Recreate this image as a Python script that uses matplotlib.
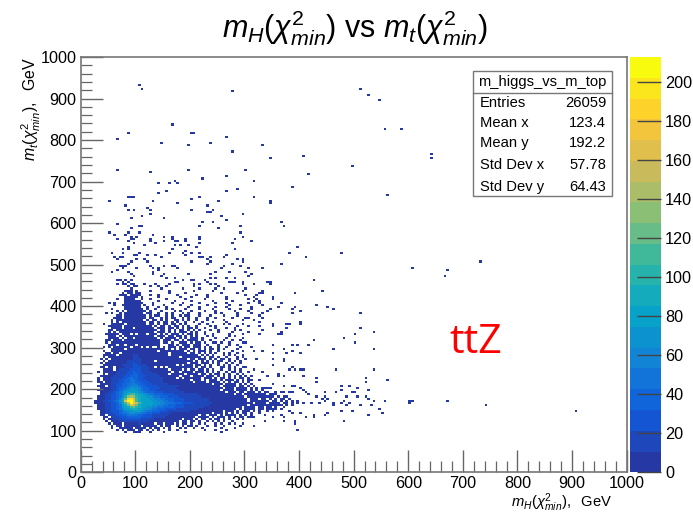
import numpy as np
import matplotlib
matplotlib.use('Agg')
import matplotlib.pyplot as plt
from matplotlib.colors import BoundaryNorm, LinearSegmentedColormap, ListedColormap
from matplotlib.patches import Rectangle

plt.rcParams['font.family'] = ['Liberation Sans', 'DejaVu Sans']
plt.rcParams['mathtext.fontset'] = 'custom'
plt.rcParams['mathtext.rm'] = 'Liberation Sans'
plt.rcParams['mathtext.it'] = 'Liberation Sans:italic'

# single entries, m_H and m_t in GeV
sparse_x = [107,112,277,512,528,546,558,587,642,642,563,497,605,671,667,731,167,
            87,203,209,266,67,148,197,237,332,277,347,407,67,127,197,302,417,266,222,317,142,162,173,177,387,287,266,157,142,
            88,93,98,217,317,202,52,132,252,347,347,177,82,232,122,87,97,127,202,242,233,237,127,297,112,257,92,152,267,222,242,367,
            67,107,112,217,292,372,92,252,52,87,107,292,62,82,132,297,102,152,167,167,217,217,192,192,67,92,92,87,97,127,127,152,173,177,282,312,
            137,217,277,97,117,173,182,197,397,87,87,212,77,167,282,192,187,192,162,202,217,382,477,57,77,107,97,102,122,137,147,217,222,237,267,262,412,62,72,77,
            67,102,117,122,202,232,237,232,287,297,297,92,87,367,277,
            72,77,82,77,102,127,132,142,142,152,167,173,177,262,257,292,307,332,67,57,87,92,97,132,132,197,247,272,302,307,312,152,148,157,237,237,247,267,282,
            427,173,185,173,178,203,209,228,272,277,282,342,347,442,317,297,237,217,208,137,142,127,117,249,249,254,262,302,163,158,148,218,206,188,231,
            68,72,77,82,92,87,92,98,67,82,77,102,97,87,92,
            391,442,432,452,462,367,362,391,387,387,402,353,353,511,402,402,382,377,353,353,511,537,502,482,502,427,417,362,367,387,397,461,537,372,353,
            387,402,377,353,372,372,387,392,402,408,467,537,382,362,362,372,408,432,432,522,522,562,477,477,492,507,467,447,527,497,502,402,407,411,417,
            386,392,371,374,365,383,389,432,447,441,453,447,487,482,507,522,527,537,557,600,600,608,672,742,907,511,532,492,477,460,463,437,423,
            548,552,527,497,477,452,447,427,427,482,397,391,391,372,412,402,386,382,367,372,353,486,
            344,347,317,298,334,353,322,322,325,307,315,365,362,347,340,334,328,331,311,312,301,298,353,379,377,328,316,325,331,307,365,307,328,
            304,310,316,331,322,350,353,319,304,334,340,325,304,310,350,316,301,340,346,325,359,353,340,322,331,316,359,356,347,337,328,319,347,353,316,304,353,337,310,316,337,298,270,267,255]
sparse_y = [932,922,918,920,905,898,829,829,768,758,667,738,494,489,470,508,838,
            818,818,818,808,804,793,788,793,788,773,758,763,728,723,728,728,718,712,708,703,698,698,703,698,688,683,678,678,673,
            663,663,663,663,663,658,653,653,653,653,648,648,643,643,638,633,633,633,633,633,628,628,623,623,618,618,613,613,608,603,603,603,
            598,593,593,593,593,593,588,588,578,578,578,578,573,573,573,568,568,568,567,562,567,562,562,558,562,567,562,558,562,562,558,558,558,558,562,558,
            553,553,553,553,548,548,548,548,543,543,539,543,538,538,538,534,529,524,529,529,529,529,529,529,529,529,524,524,523,523,518,518,518,518,523,518,518,518,518,518,
            513,513,513,508,508,513,508,503,513,513,508,508,503,503,503,
            497,497,497,492,494,497,492,492,487,497,497,497,492,497,492,497,492,492,487,483,483,478,473,483,478,478,483,483,483,473,478,478,473,468,478,468,468,468,468,
            463,468,463,458,458,463,463,463,458,458,458,458,453,439,453,453,453,453,453,453,447,449,453,450,443,447,444,443,450,447,443,443,447,443,459,
            463,463,458,463,463,458,453,453,453,453,453,448,448,448,443,
            433,439,404,399,394,409,399,399,393,384,389,423,419,384,362,358,358,349,358,353,349,338,334,324,314,318,309,334,334,309,309,298,298,298,309,
            294,289,285,289,272,268,253,249,249,249,245,245,245,238,234,234,234,228,218,228,218,224,208,198,208,204,194,192,199,194,194,202,198,192,188,
            208,208,208,190,190,190,190,180,182,178,178,174,182,174,180,180,176,174,174,174,168,174,174,164,148,164,164,168,168,168,164,168,168,
            154,143,139,148,148,143,139,139,130,123,103,123,118,123,134,143,143,148,139,134,134,160,
            459,455,453,455,432,423,429,419,407,419,413,407,399,392,387,383,379,373,392,383,371,367,359,359,349,363,367,351,344,351,335,335,331,
            310,302,290,290,270,270,258,246,250,242,230,222,234,222,214,206,198,202,202,194,194,186,182,182,178,186,170,162,166,164,162,164,154,154,150,146,146,138,134,114,120,126,118,100,98]

# lower edge of each 5 GeV row in m_t, dense part of the histogram
grid_y = list(range(435, 90, -5))
# one character per 5 GeV bin in m_H, starting at 0
# . empty, # a few entries, otherwise the content in tens (base 36)
grid_rows = [
"................###.#....#......#........#......#..........#......#",
"...............#.##.##..........#.....#............#.....#.......#",
"..............###.####...#..#......#......#...#.............#......",
"................#####.#.....#.......#...#.....#......#.........#",
".............#..####..#..#.....#......#......#.......#.......#",
"................######......#.....#.....#.......#......#.........#",
"..........#.#...#######...#......#...#.....#.....#...#.......#",
"............#..#######.#..#...#.....#...#.....#.......#...#.......#",
"................######..#...#..#.......#...#.....#...#........#",
"...........#....#######.#..#...#.#....#....#....#.....#...#",
".............#.#.#######.#...#....#.#...#....#...#......#....#",
".........#.#..#.#######.##..#..#.#...#.#...#.....#.#.....#....",
".............##.########.#.##..#.#..#.##...#...#....#....#",
"............###.########.##..#.#.##..#.#..#...#..#.....#.....#",
"...........#.##########.#.##.#.#..##.#.#..#...#.....#......#",
"...........#.#.#########.##.#.##.#.#..#..#..#...#....#...",
"........#..#####.#######.##.#.##.##.#.#....#..#.....#.#....#",
"..........#####.##########.#.##.#.##.#.#..#....#.#.......#",
"...........####.###.#######.###.##.#.#.##.#..#...#...#..#",
"..........##.###############.##.#.#.##.#.#.#...#..#.....#.#",
"..........#.#.#############.###.#.#.###.#.#..#....#....#",
".........#####.###.#.###.###.#.#.###.#.##.#..#..#.....#....#",
"..........###.#.###########.###.##.##.#.#.#...#.#.....#.#",
"..........####.#.##.########.#.####.#.#.###.#....#...#.....#",
".........##.###.#############.###.##.#.####.#..#....#..#..#",
".........#.##################.##.#..###.#.##.#..##.#..#....#",
"..........###.##.###.########...##.#.###.###..#...#...#..#",
"........#.#.######.###.#.#..#.#.###.#.##.###.#.#..#..#....#",
"...........#####.##############.#.#.###.##.#.#.##.#.#....#",
"........#..#################.#########.#.#.###.#..#....#...#",
".........##.##.#################.######.##.#.#.#.#..#.#..#",
"........#####.#####11###########.##########.#.#.#...#.#.#..#",
"........#.#########11###############.#######.#.##.#..#...#.#",
".......#.#.########111#################.##.###.#.#.##.#..#..#",
"........#.#######11111#####.#############.#.#.#.#.##..#.#.#",
".......#.########11211#################.###.###.#.#..#.#..#",
"........#######111122111###########.#.###.##.#.#..#.#.#..#",
".......##.##.###111222111##.#.#.#########.#.##.#...##.#.#..#",
"........####.#11112222111#######.####.#.##.##.#.#..#..#.#.#",
"......#.#####1111223221111#######.##.####.###.#.#.#..#.##.#..#",
"........#.###111122332211111####.#####.####.##.#.##.#.#..#.#",
".......#####11112233322211111#######.###.####.###.#.#.#.#.#.#.#",
"......#.###1111223433221111111#####.#.######.###.#.##.#.#.##.#",
"......#.###1112233443222111111##########.###.#.###.#.###.#.#.#",
"......##.##1112233443322211111###########.####.####.#.#.##.#.#",
".......####112233445433222111111################.###.####.#.#.#",
"......###.#1122334555433222211111111###############.#####.##.#",
".......####112334566654332222111111#################.###.####.#.#.###",
"......#####1123456776543322211111111###############.####.####.#.#.#",
".......###1123456788765433322211111111###############.###.##.###.#.##",
".......##112234579bb98765443332222111111111#############.##.###.####.#.#",
"......###11223469deda98766544333222211111111################.###.######.#.##",
"......###1122359cijgb98876655443332222111111111##############.###.##.#.#.##.#",
".....###11223469gkkhb98877665544332222111111111##############.#######.##.#.#.#.#",
".....####1122358bfkhfb98877665544433322221111111###############.####.####.##.#.#.#",
"......###11223479cgfc98877665544333222111111111##############.#####.###.##.#.#",
"......###112234689bca987665544333322221111111##############.####.##.##.#..#",
"......###1122345789a98766544333222211111111##############.#.####.##.##.#.#",
".......##1122234566777654433322211111111############.###.#.###.#.#..#.#",
".......##111223445665544332221111###############.###.#.#.#.##.#..#",
".......##.1112233444433222111111###########.##.###.#.####.#.#.#",
"........##.11122233333222211111###########.####.#.###.#.#.##.#.#",
"........#.##111222222211111##########.###.#.##.#.##.#.#..#",
".........#.###11111111111###########.##.##.#..#.#.#.#..#",
"..........#.###.#####1#####.##.###.#.##.#..#.#...#.#....#..#",
"...........#.##.######.#####.#.##..#.#.##.#...#..#..#.....#",
"...........#..#####.####.#.##.#.#...#.#..#..#......#....#",
".............#.#.###.##.#.#.#...#..#.........#...#...#",
"................#..###...#....#.......#",
]

stat_names = ['Entries', 'Mean x', 'Mean y', 'Std Dev x', 'Std Dev y']
stat_values = ['26059', '123.4', '192.2', '57.78', '64.43']
ticks = list(range(0, 1001, 100))
z_ticks = list(range(0, 201, 20))

# kBird palette of ROOT with a bluer start, 20 contours
bird = LinearSegmentedColormap.from_list('bird', [
    (0.15, 0.22, 0.64), (0.0592, 0.3599, 0.8684), (0.0780, 0.5041, 0.8385),
    (0.0232, 0.6419, 0.7914), (0.1802, 0.7178, 0.6425), (0.5301, 0.7492, 0.4662),
    (0.8186, 0.7328, 0.3499), (0.9956, 0.7862, 0.1968), (0.9764, 0.9832, 0.0539)])
cmap = ListedColormap(bird(np.linspace(0, 1, 20)))
z_max = 213
norm = BoundaryNorm(np.linspace(0, z_max, 21), 20)

xs, ys, counts = [], [], []
for x, y in zip(sparse_x, sparse_y):
    xs.append(x)
    ys.append(y)
    counts.append(1)
for y, row in zip(grid_y, grid_rows):
    for c, ch in enumerate(row):
        if ch == '.':
            continue
        xs.append(c * 5 + 2.5)
        ys.append(y + 2.5)
        counts.append(3 if ch == '#' else int(ch, 36) * 10 + 5)

W, H = 693, 517
fig = plt.figure(figsize=(W / 100, H / 100), dpi=100)


def px_box(left, top, right, bottom):
    return [left / W, 1 - bottom / H, (right - left) / W, (bottom - top) / H]


ax = fig.add_axes(px_box(80.7, 57, 626.6, 472.3))
edges = np.arange(0, 1001, 5)
h = ax.hist2d(xs, ys, bins=[edges, edges], weights=counts, cmap=cmap, norm=norm, cmin=0.5)
ax.set_xlim(0, 1000)
ax.set_ylim(0, 1000)
ax.set_xticks(ticks)
ax.set_yticks(ticks)
ax.set_xticks(range(0, 1001, 20), minor=True)
ax.set_yticks(range(0, 1001, 20), minor=True)
ax.tick_params(which='major', direction='in', length=16, width=1, color='#666666', labelsize=11.7, pad=3)
ax.tick_params(which='minor', direction='in', length=8, width=0.9, color='#666666')
for s in ax.spines.values():
    s.set_color('#777777')
    s.set_linewidth(1.2)

cax = fig.add_axes(px_box(630, 57, 661, 472.3))
cb = fig.colorbar(h[3], cax=cax, ticks=z_ticks)
cb.outline.set_visible(False)
cb.ax.minorticks_off()
cb.ax.tick_params(direction='in', length=17, width=1, color='#444444', labelsize=11.7, pad=3)


def fig_text(x, y, s, **kw):
    return fig.text(x / W, 1 - y / H, s, **kw)


fig_text(355, 28, r'$m_{H}(\chi^{2}_{min})$ vs $m_{t}(\chi^{2}_{min})$', fontsize=22, ha='center', va='center')
fig_text(612, 503, r'$m_{H}(\chi^{2}_{min}),\ $ GeV', fontsize=10.6, ha='right', va='center')
fig_text(31, 57, r'$m_{t}(\chi^{2}_{min}),\ $ GeV', fontsize=11.4, ha='center', va='top', rotation=90)
fig_text(476, 343, 'ttZ', fontsize=29.5, color='#ff0000', ha='center', va='center', family=['Open Sans', 'DejaVu Sans'])

# stats box
fig.add_artist(Rectangle((473 / W, 1 - 196 / H), 139 / W, 125 / H, transform=fig.transFigure,
                         facecolor='white', edgecolor='#777777', linewidth=1, zorder=3))
fig.add_artist(plt.Line2D([473 / W, 612 / W], [1 - 93 / H, 1 - 93 / H], color='#777777', linewidth=1, zorder=3))
fig_text(542.5, 82, 'm_higgs_vs_m_top', fontsize=10.6, ha='center', va='center', zorder=4)
stat_rows = [103, 123, 143, 165, 187]
for name, value, yp in zip(stat_names, stat_values, stat_rows):
    fig_text(480, yp, name, fontsize=10.6, ha='left', va='center', zorder=4)
    fig_text(606, yp, value, fontsize=10.6, ha='right', va='center', zorder=4)

fig.savefig('out.png', dpi=100)
